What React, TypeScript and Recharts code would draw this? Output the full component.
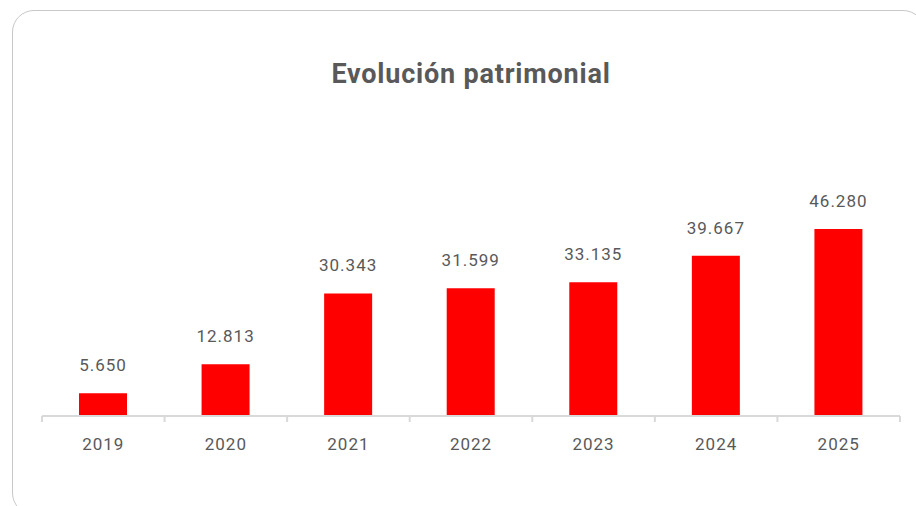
import { Bar, BarChart, LabelList, XAxis, YAxis } from "recharts";

const years = ["2019", "2020", "2021", "2022", "2023", "2024", "2025"];
const patrimonio = [5650, 12813, 30343, 31599, 33135, 39667, 46280];

const data = years.map((year, i) => ({ year, value: patrimonio[i] }));

const fmt = (v: number) => String(v).replace(/\B(?=(\d{3})+(?!\d))/g, ".");

const grey = "#595959";
const lineGrey = "#d9d9d9";
const font = "Roboto, 'DejaVu Sans', sans-serif";
const TICK_MARGIN = 16;
const TICK_SIZE = 6;

// year label plus small tick marks on the category edges
function YearTick(props: any) {
    const { x, y, payload, index } = props;
    const half = payload.offset ?? 0;
    const axisY = y - TICK_MARGIN - TICK_SIZE;
    return (
        <g>
            <line x1={x - half} x2={x - half} y1={axisY} y2={axisY + TICK_SIZE} stroke={lineGrey} strokeWidth={2} />
            {index === years.length - 1 && (
                <line x1={x + half} x2={x + half} y1={axisY} y2={axisY + TICK_SIZE} stroke={lineGrey} strokeWidth={2} />
            )}
            <text x={x} y={y} dy="0.71em" textAnchor="middle" fill={grey} fontSize={17} fontFamily={font} letterSpacing={1}>
                {payload.value}
            </text>
        </g>
    );
}

export default function App() {
    return (
        <div style={{ position: "absolute", left: 0, top: 0, width: 916, height: 506, overflow: "hidden", background: "#fff" }}>
            <div
                style={{
                    position: "absolute",
                    left: 12,
                    top: 10,
                    width: 913,
                    height: 505,
                    border: "1.5px solid #c8c8c8",
                    borderRadius: 22,
                    boxSizing: "border-box",
                }}
            />
            <div
                style={{
                    position: "absolute",
                    left: 0,
                    width: 942,
                    top: 58,
                    textAlign: "center",
                    fontFamily: font,
                    fontWeight: 700,
                    fontSize: 27,
                    letterSpacing: 0.8,
                    color: grey,
                }}
            >
                Evolución patrimonial
            </div>
            <div style={{ position: "absolute", left: 0, top: 0 }}>
                <BarChart width={916} height={506} data={data} margin={{ top: 214, right: 16, left: 42, bottom: 50 }}>
                    <YAxis hide domain={[0, 50000]} />
                    <XAxis
                        dataKey="year"
                        height={40}
                        axisLine={{ stroke: lineGrey, strokeWidth: 2 }}
                        tickLine={false}
                        tickSize={TICK_SIZE}
                        tickMargin={TICK_MARGIN}
                        interval={0}
                        tick={<YearTick />}
                    />
                    <Bar dataKey="value" fill="#ff0000" barSize={48} isAnimationActive={false}>
                        <LabelList
                            dataKey="value"
                            position="top"
                            offset={22}
                            formatter={(v: any) => fmt(Number(v))}
                            style={{ fill: grey, fontSize: 17, fontFamily: font, letterSpacing: 1 }}
                        />
                    </Bar>
                </BarChart>
            </div>
        </div>
    );
}
